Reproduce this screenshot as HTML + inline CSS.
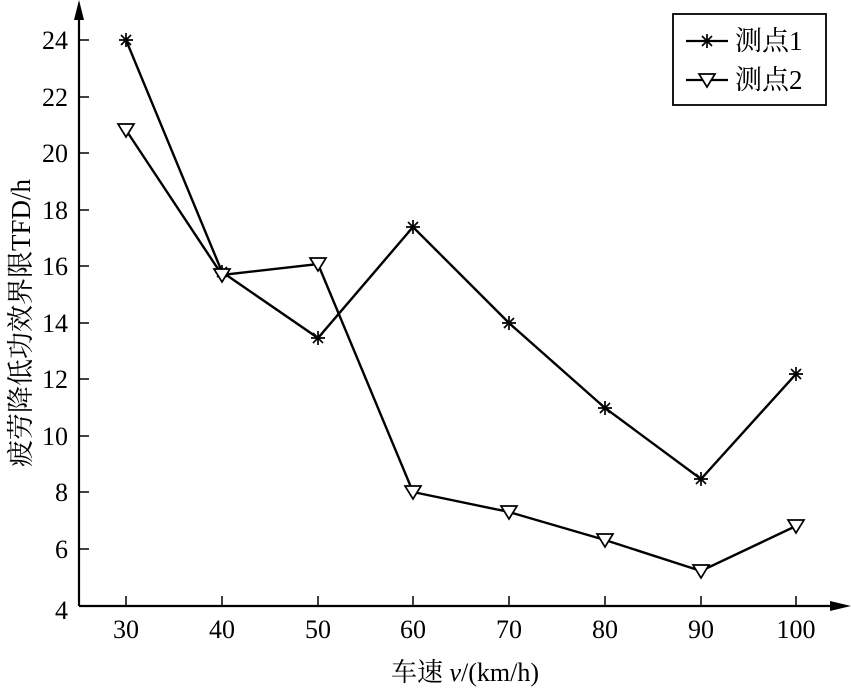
<!DOCTYPE html>
<html><head><meta charset="utf-8"><style>body{margin:0;background:#fff}</style></head><body>
<svg width="851" height="693" xmlns="http://www.w3.org/2000/svg" font-family="'Liberation Serif','Noto Serif CJK SC',serif">
<defs>
<g id="st"><path d="M-7,0H7M0,-7V7M-5,-5L5,5M-5,5L5,-5" stroke="#000" stroke-width="1.7"/></g>
<g id="tr"><path d="M-8,-6H8L0,7Z" fill="#fff" stroke="#000" stroke-width="1.7"/></g>
</defs>
<g stroke="#000" stroke-width="2.2" fill="none">
<path d="M79,606V8M79,606H840"/>
</g>
<path d="M79,0L74,20L84,20Z"/>
<path d="M851,606L830,601L830,611Z"/>
<g stroke="#000" stroke-width="1.5">
<path d="M79,40h10M79,97h10M79,153h10M79,210h10M79,266h10M79,323h10M79,379h10M79,436h10M79,492h10M79,549h10"/>
<path d="M126,606v-10M222,606v-10M318,606v-10M413,606v-10M509,606v-10M605,606v-10M701,606v-10M796,606v-10"/>
</g>
<g font-size="26" text-anchor="end">
<text x="68" y="49">24</text><text x="68" y="106">22</text><text x="68" y="162">20</text><text x="68" y="219">18</text><text x="68" y="275">16</text><text x="68" y="332">14</text><text x="68" y="388">12</text><text x="68" y="445">10</text><text x="68" y="501">8</text><text x="68" y="558">6</text><text x="68" y="619">4</text>
</g>
<g font-size="26" text-anchor="middle">
<text x="126" y="638">30</text><text x="222" y="638">40</text><text x="318" y="638">50</text><text x="413" y="638">60</text><text x="509" y="638">70</text><text x="605" y="638">80</text><text x="701" y="638">90</text><text x="796" y="638">100</text>
</g>
<text x="465" y="681" font-size="26" text-anchor="middle">车速 <tspan font-style="italic">v</tspan>/(km/h)</text>
<text transform="translate(30,323) rotate(-90)" font-size="27" text-anchor="middle">疲劳降低功效界限TFD/h</text>
<g fill="none" stroke="#000" stroke-width="2.4">
<polyline points="126,40 222,272 318,338 413,227 509,323 605,408 701,479 796,374"/>
<polyline points="126,130 222,275 318,264 413,492 509,512 605,540 701,571 796,526"/>
</g>
<g>
<use href="#st" x="126" y="40"/><use href="#st" x="222" y="272"/><use href="#st" x="318" y="338"/><use href="#st" x="413" y="227"/><use href="#st" x="509" y="323"/><use href="#st" x="605" y="408"/><use href="#st" x="701" y="479"/><use href="#st" x="796" y="374"/>
<use href="#tr" x="126" y="130"/><use href="#tr" x="222" y="275"/><use href="#tr" x="318" y="264"/><use href="#tr" x="413" y="492"/><use href="#tr" x="509" y="512"/><use href="#tr" x="605" y="540"/><use href="#tr" x="701" y="571"/><use href="#tr" x="796" y="526"/>
</g>
<rect x="673" y="14" width="153" height="91" fill="#fff" stroke="#000" stroke-width="1.8"/>
<path d="M686,41H728M686,80H728" stroke="#000" stroke-width="2.2"/>
<use href="#st" x="707" y="41"/><use href="#tr" x="707" y="80"/>
<text x="735" y="50" font-size="27">测点1</text>
<text x="735" y="89" font-size="27">测点2</text>
</svg>
</body></html>
